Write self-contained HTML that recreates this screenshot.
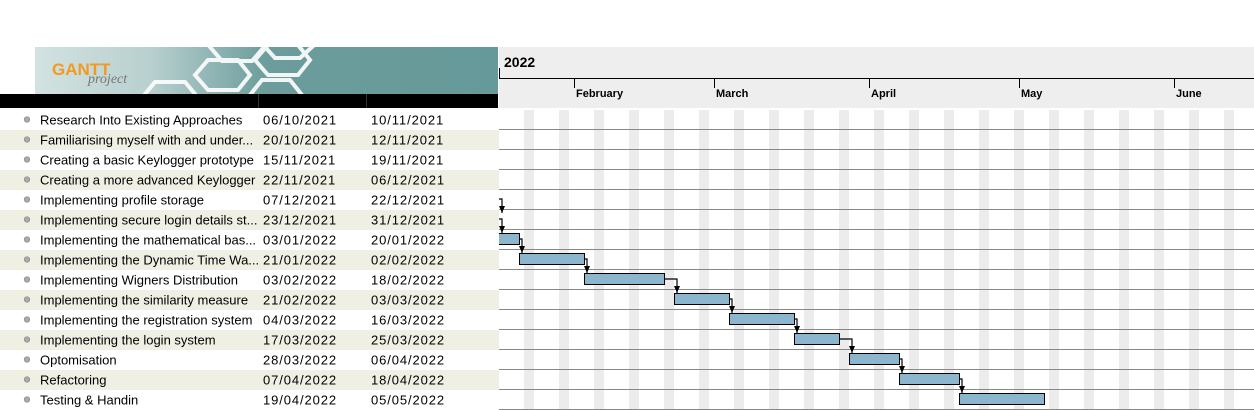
<!DOCTYPE html>
<html><head><meta charset="utf-8"><style>
body{margin:0;width:1254px;height:410px;overflow:hidden;background:#fff;font-family:"Liberation Sans",sans-serif}
svg{position:absolute;left:0;top:0}
</style></head><body>
<svg width="1254" height="410">
<defs>
<linearGradient id="lg" x1="0" x2="1" y1="0" y2="0">
<stop offset="0" stop-color="#d2e2e1"/><stop offset="0.25" stop-color="#b8d0cf"/><stop offset="0.5" stop-color="#6c9d9c"/><stop offset="1" stop-color="#669999"/></linearGradient>
<clipPath id="logoclip"><rect x="35" y="47" width="463" height="47"/></clipPath>
<clipPath id="chartclip"><rect x="499" y="108" width="755" height="302"/></clipPath>
</defs>
<g clip-path="url(#logoclip)">
<rect x="35" y="47" width="463" height="47" fill="url(#lg)"/>
<g fill="none" stroke="#fff" stroke-width="4" opacity="0.9">
<polygon points="140,100 155,82 185,82 200,100 185,118 155,118"/>
<polygon points="195,75 208,60 238,60 250,75 238,90 208,90"/>
<polygon points="210,47 222,33 252,33 264,47 252,61 222,61"/>
<polygon points="255,60 268,45 298,45 310,60 298,75 268,75"/>
<polygon points="265,47 275,35 300,35 312,47 300,58 275,58"/>
<polygon points="250,95 262,80 290,80 302,95 290,110 262,110"/>
</g>
<text x="52" y="75" font-size="17" font-weight="bold" fill="#f39a1e">GANTT</text>
<text x="88" y="83" font-size="14" font-style="italic" fill="#777" font-family="Liberation Serif,serif">project</text>
</g>
<rect x="0" y="94" width="498" height="14" fill="#000"/>
<line x1="258.5" y1="94" x2="258.5" y2="108" stroke="#333"/><line x1="366.5" y1="94" x2="366.5" y2="108" stroke="#333"/>
<g>
<rect x="499" y="47" width="755" height="61" fill="#eeeeee"/>
<text x="504" y="67" font-size="14" font-weight="bold" fill="#000">2022</text>
<line x1="499" y1="78.5" x2="1254" y2="78.5" stroke="#000"/>
<line x1="499.5" y1="68" x2="499.5" y2="78" stroke="#000"/>
<g id="months"></g>
</g>
<g id="table"></g>
<g id="chart" clip-path="url(#chartclip)"></g>
</svg>
<script>
const tasks=["Research Into Existing Approaches","Familiarising myself with and under...","Creating a basic Keylogger prototype","Creating a more advanced Keylogger","Implementing profile storage","Implementing secure login details st...","Implementing the mathematical bas...","Implementing the Dynamic Time Wa...","Implementing Wigners Distribution","Implementing the similarity measure","Implementing the registration system","Implementing the login system","Optomisation","Refactoring","Testing & Handin"];
const starts=["06/10/2021","20/10/2021","15/11/2021","22/11/2021","07/12/2021","23/12/2021","03/01/2022","21/01/2022","03/02/2022","21/02/2022","04/03/2022","17/03/2022","28/03/2022","07/04/2022","19/04/2022"];
const ends=["10/11/2021","12/11/2021","19/11/2021","06/12/2021","22/12/2021","31/12/2021","20/01/2022","02/02/2022","18/02/2022","03/03/2022","16/03/2022","25/03/2022","06/04/2022","18/04/2022","05/05/2022"];
const depFrom=[4,5,6,7,8,9,10,11,12,13];
const monthNames=["February","March","April","May","June"];
const monthDates=["01/02/2022","01/03/2022","01/04/2022","01/05/2022","01/06/2022"];
const NS="http://www.w3.org/2000/svg";
function parse(s){const p=s.split('/');return Date.UTC(+p[2],+p[1]-1,+p[0]);}
const origin=Date.UTC(2022,0,1);
function xOf(s,extra){return 419+((parse(s)-origin)/86400000+(extra||0))*5;}
function mk(tag,attrs,parent){const e=document.createElementNS(NS,tag);for(const k in attrs)e.setAttribute(k,attrs[k]);parent.appendChild(e);return e;}
const months=document.getElementById('months');
monthNames.forEach((m,i)=>{const x=Math.round(xOf(monthDates[i]))+0.5;
 const l=mk('line',{x1:x,y1:78,x2:x,y2:88,stroke:'#000'},months);
 
 
 const t=mk('text',{x:x+1.5,y:97,'font-size':11,'font-weight':'bold',fill:'#000'},months);t.textContent=m;
 
 });
const table=document.getElementById('table'),chart=document.getElementById('chart');
for(let x=419;x<1254;x+=35){const r=mk('rect',{x:x,y:110,width:10,height:300,fill:'#ececec'},chart);
 
 }
tasks.forEach((n,i)=>{const top=110+i*20;
 if(i%2==1)mk('rect',{x:0,y:top,width:499,height:20,fill:'#efefe3'},table);
 const b=mk('circle',{cx:27,cy:top+9.5,r:2.8,fill:'#aaa',stroke:'#888','stroke-width':0.6},table);
 
 
 const cols=[[40,n,0],[263,starts[i],0.9],[371,ends[i],0.9]];
 cols.forEach(c=>{const t=mk('text',{x:c[0],y:top+14.5,'font-size':13,'letter-spacing':c[2],fill:'#000'},table);t.textContent=c[1];
  
  });
 const l=mk('line',{x1:499,y1:top+19.5,x2:1254,y2:top+19.5,stroke:'#888'},chart);
 
 
});
tasks.forEach((n,i)=>{const top=110+i*20;const x1=xOf(starts[i]),x2=xOf(ends[i],1);
 const r=mk('rect',{x:x1+0.5,y:top+3.5,width:x2-x1,height:11,fill:'#8cb6ce',stroke:'#000','stroke-width':1},chart);
 
 
 if(depFrom.includes(i)&&i<tasks.length-1){const ns=xOf(starts[i+1]);let cx=Math.max(x2+3,ns+3,502);const ny=top+20+3;const my=top+9;
  const p=mk('polyline',{points:`${Math.max(x2,499)},${my} ${cx},${my} ${cx},${ny}`,fill:'none',stroke:'#000','stroke-width':1.2},chart);
  
  
  mk('polygon',{points:`${cx-3},${ny-7} ${cx+3},${ny-7} ${cx},${ny}`,fill:'#000'},chart);}
});
</script>
</body></html>
